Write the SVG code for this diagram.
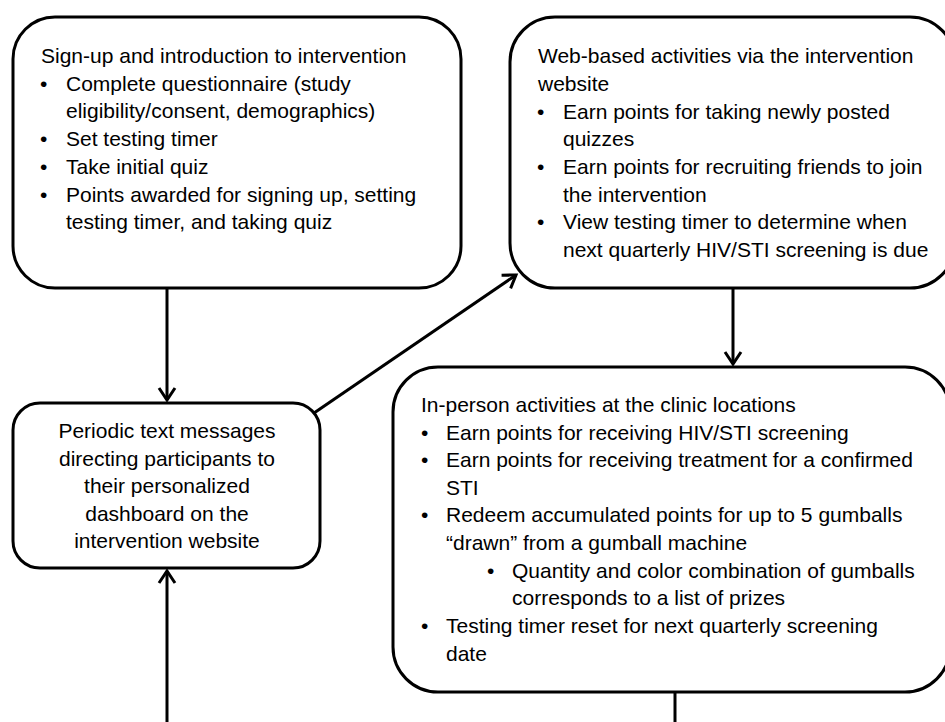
<svg xmlns="http://www.w3.org/2000/svg" width="945" height="722" viewBox="0 0 945 722">
<style>
.box{fill:#fff;stroke:#000;stroke-width:3}
.t{font-family:"Liberation Sans",Arial,sans-serif;font-size:21px;fill:#000}
.c{text-anchor:middle}
.ln{fill:none;stroke:#000;stroke-width:3}
</style>
<defs>
<marker id="ah" viewBox="-16 -11 19 22" refX="0" refY="0" markerWidth="19" markerHeight="22" markerUnits="userSpaceOnUse" orient="auto">
<path d="M-12,-8 L0,0 L-12,8" fill="none" stroke="#000" stroke-width="3"/>
</marker>
</defs>
<rect width="945" height="722" fill="#fff"/>
<g id="node-signup">
<rect class="box" x="13" y="17" width="448" height="271" rx="42"/>
<text class="t" x="41" y="63">Sign-up and introduction to intervention</text>
<text class="t" x="40" y="91">•</text><text class="t" x="66" y="91">Complete questionnaire (study</text>
<text class="t" x="66" y="118">eligibility/consent, demographics)</text>
<text class="t" x="40" y="146">•</text><text class="t" x="66" y="146">Set testing timer</text>
<text class="t" x="40" y="174">•</text><text class="t" x="66" y="174">Take initial quiz</text>
<text class="t" x="40" y="202">•</text><text class="t" x="66" y="202">Points awarded for signing up, setting</text>
<text class="t" x="66" y="229">testing timer, and taking quiz</text>
</g>
<g id="node-web">
<rect class="box" x="510" y="17" width="445" height="271" rx="45"/>
<text class="t" x="538" y="63">Web-based activities via the intervention</text>
<text class="t" x="538" y="91">website</text>
<text class="t" x="537" y="119">•</text><text class="t" x="563" y="119">Earn points for taking newly posted</text>
<text class="t" x="563" y="146">quizzes</text>
<text class="t" x="537" y="174">•</text><text class="t" x="563" y="174">Earn points for recruiting friends to join</text>
<text class="t" x="563" y="202">the intervention</text>
<text class="t" x="537" y="229">•</text><text class="t" x="563" y="229">View testing timer to determine when</text>
<text class="t" x="563" y="257">next quarterly HIV/STI screening is due</text>
</g>
<g id="node-sms">
<rect class="box" x="13" y="403" width="307" height="165" rx="27"/>
<text class="t c" x="167" y="438">Periodic text messages</text>
<text class="t c" x="167" y="466">directing participants to</text>
<text class="t c" x="167" y="493">their personalized</text>
<text class="t c" x="167" y="521">dashboard on the</text>
<text class="t c" x="167" y="548">intervention website</text>
</g>
<g id="node-clinic">
<rect class="box" x="393" y="367" width="557" height="325" rx="45"/>
<text class="t" x="421" y="412">In-person activities at the clinic locations</text>
<text class="t" x="421" y="440">•</text><text class="t" x="446" y="440">Earn points for receiving HIV/STI screening</text>
<text class="t" x="421" y="467">•</text><text class="t" x="446" y="467">Earn points for receiving treatment for a confirmed</text>
<text class="t" x="446" y="495">STI</text>
<text class="t" x="421" y="522">•</text><text class="t" x="446" y="522">Redeem accumulated points for up to 5 gumballs</text>
<text class="t" x="446" y="550">“drawn” from a gumball machine</text>
<text class="t" x="487" y="578">•</text><text class="t" x="512" y="578">Quantity and color combination of gumballs</text>
<text class="t" x="512" y="605">corresponds to a list of prizes</text>
<text class="t" x="421" y="633">•</text><text class="t" x="446" y="633">Testing timer reset for next quarterly screening</text>
<text class="t" x="446" y="661">date</text>
</g>
<g id="connectors">
<path class="ln" d="M167,288 L167,400" marker-end="url(#ah)"/>
<path class="ln" d="M314,413 L516,275" marker-end="url(#ah)"/>
<path class="ln" d="M733,288 L733,364" marker-end="url(#ah)"/>
<path class="ln" d="M167,722 L167,571" marker-end="url(#ah)"/>
<path class="ln" d="M675,692 L675,722"/>
</g>
</svg>
